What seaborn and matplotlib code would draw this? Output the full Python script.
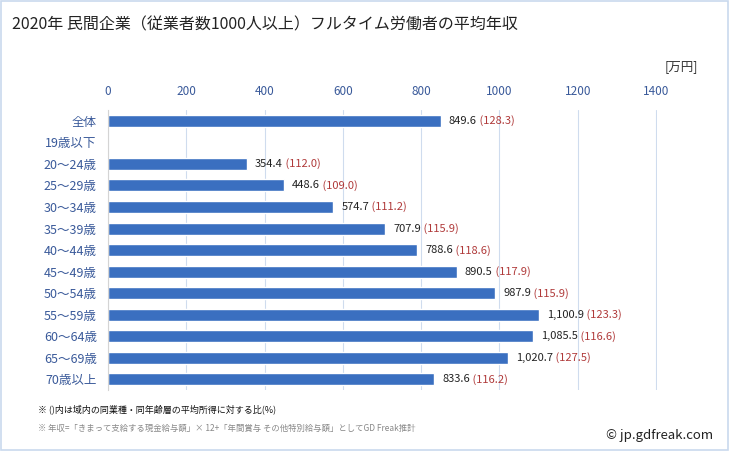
import numpy as np
import pandas as pd
import matplotlib
matplotlib.use("Agg")
import matplotlib.pyplot as plt
import seaborn as sns

# ---- data ----
categories = ["全体", "19歳以下", "20～24歳", "25～29歳", "30～34歳", "35～39歳", "40～44歳",
              "45～49歳", "50～54歳", "55～59歳", "60～64歳", "65～69歳", "70歳以上"]
salary = [849.6, np.nan, 354.4, 448.6, 574.7, 707.9, 788.6, 890.5, 987.9, 1100.9, 1085.5, 1020.7, 833.6]
ratio = [128.3, np.nan, 112.0, 109.0, 111.2, 115.9, 118.6, 117.9, 115.9, 123.3, 116.6, 127.5, 116.2]
x_ticks = [0, 200, 400, 600, 800, 1000, 1200, 1400]

df = pd.DataFrame({"cat": categories, "salary": salary, "ratio": ratio})

sns.set_theme(style="white")
plt.rcParams["font.family"] = ["Noto Sans CJK JP", "DejaVu Sans"]

fig = plt.figure(figsize=(7.29, 4.51), dpi=100)
ax = fig.add_axes([0.148, 0.135, 0.753, 0.621])

sns.barplot(data=df, x="salary", y="cat", orient="h", color="#3a6fc0",
            saturation=1, width=0.56, ax=ax)

ax.set_xlim(0, 1402)
ax.set_xticks(x_ticks)
ax.xaxis.tick_top()
ax.tick_params(axis="x", length=0, labelsize=8.5, labelcolor="#3a5a9a", pad=9)
ax.tick_params(axis="y", length=0, labelsize=9, labelcolor="#3a5a9a", pad=8)
ax.grid(axis="x", color="#cfdcee", linewidth=0.8)
ax.set_axisbelow(True)
for s in ax.spines.values():
    s.set_visible(False)
ax.spines["left"].set_visible(True)
ax.spines["left"].set_color("#d4d4d4")
ax.spines["left"].set_linewidth(0.8)
ax.set_xlabel("")
ax.set_ylabel("")

# value labels
for i, (v, r) in enumerate(zip(salary, ratio)):
    if np.isnan(v):
        continue
    t = ax.annotate(f"{v:,.1f}", (v, i), xytext=(6, 0), textcoords="offset points",
                    va="center", ha="left", fontsize=8, color="#222222",
                    annotation_clip=False)
    ax.annotate(f" ({r:.1f})", xy=(1, 0.5), xycoords=t, va="center", ha="left",
                fontsize=8, color="#b03a3a", annotation_clip=False)

fig.text(0.016, 0.945, "2020年 民間企業（従業者数1000人以上）フルタイム労働者の平均年収",
         fontsize=11.5, color="#222222", va="center")
fig.text(0.958, 0.852, "[万円]", fontsize=9, color="#333333", va="center", ha="right")
fig.text(0.052, 0.093, "※ ()内は域内の同業種・同年齢層の平均所得に対する比(%)",
         fontsize=6.5, color="#111111", va="center")
fig.text(0.052, 0.051, "※ 年収=「きまって支給する現金給与額」× 12+「年間賞与 その他特別給与額」としてGD Freak推計",
         fontsize=6, color="#888888", va="center")
fig.text(0.978, 0.035, "© jp.gdfreak.com", fontsize=9.5, color="#222222", va="center", ha="right")

# light border round the figure
fig.patches.append(plt.Rectangle((0.002, 0.003), 0.996, 0.994, transform=fig.transFigure,
                                 fill=False, edgecolor="#c9d9ee", linewidth=1.2))

fig.savefig("out.png", dpi=100)
